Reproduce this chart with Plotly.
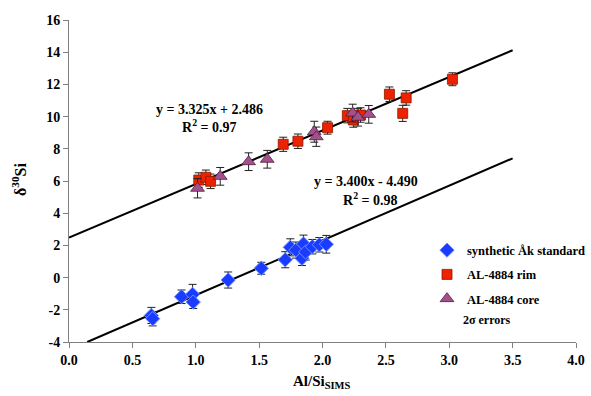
import plotly.graph_objects as go

# ---- data ----
std_x = [0.65, 0.66, 0.888, 0.975, 0.98, 1.256, 1.517, 1.706, 1.746, 1.79, 1.838, 1.85, 1.867, 1.92, 1.975, 2.03]
std_y = [-2.35, -2.55, -1.19, -1.04, -1.52, -0.15, 0.58, 1.11, 1.88, 1.71, 1.2, 2.09, 1.59, 1.92, 2.04, 2.07]
std_e = [0.5, 0.45, 0.42, 0.62, 0.4, 0.5, 0.37, 0.5, 0.53, 0.5, 0.45, 0.55, 0.5, 0.45, 0.45, 0.55]

rim_x = [1.024, 1.08, 1.117, 1.69, 1.806, 2.04, 2.196, 2.243, 2.30, 2.528, 2.66, 2.633, 3.025]
rim_y = [6.06, 6.23, 5.98, 8.28, 8.47, 9.31, 10.06, 9.79, 10.1, 11.39, 11.16, 10.2, 12.32]
rim_e = [0.45, 0.45, 0.45, 0.44, 0.45, 0.4, 0.45, 0.45, 0.45, 0.45, 0.45, 0.5, 0.4]

core_x = [1.014, 1.193, 1.417, 1.564, 1.935, 1.951, 2.238, 2.28, 2.365]
core_y = [5.55, 6.29, 7.2, 7.35, 9.06, 8.75, 10.22, 9.96, 10.14]
core_e = [0.6, 0.55, 0.55, 0.55, 0.65, 0.6, 0.55, 0.55, 0.55]

fit_upper = (3.325, 2.486)
fit_upper_x = [0.0, 3.5]
fit_lower = (3.400, -4.490)
fit_lower_x = [0.144, 3.5]

x_ticks = [0.0, 0.5, 1.0, 1.5, 2.0, 2.5, 3.0, 3.5, 4.0]
y_ticks = [-4, -2, 0, 2, 4, 6, 8, 10, 12, 14, 16]

FONT = "Liberation Serif, Times New Roman, serif"
L, R, T, B, W, H = 69, 15, 20, 54, 591, 396
PW, PH = W - L - R, H - T - B

fig = go.Figure()

def err(e):
    return dict(type="data", array=e, visible=True, color="#222222", thickness=1, width=4)

for (a, b), xs in ((fit_upper, fit_upper_x), (fit_lower, fit_lower_x)):
    fig.add_trace(go.Scatter(x=xs, y=[a * v + b for v in xs], mode="lines",
                             line=dict(color="black", width=2), showlegend=False, hoverinfo="skip"))

fig.add_trace(go.Scatter(x=std_x, y=std_y, error_y=err(std_e), mode="markers",
                         name="<b>synthetic Åk standard</b>", legendgroup="a",
                         marker=dict(symbol="diamond", size=11, color="#1a3cff",
                                     line=dict(color="#6f8dff", width=1))))
fig.add_trace(go.Scatter(x=rim_x, y=rim_y, error_y=err(rim_e), mode="markers",
                         name="<b>AL-4884 rim</b>", legendgroup="b",
                         marker=dict(symbol="square", size=10, color="#ee2200",
                                     line=dict(color="#8a1a00", width=0.8))))
fig.add_trace(go.Scatter(x=core_x, y=core_y, error_y=err(core_e), mode="markers",
                         name="<b>AL-4884 core</b>", legendgroup="c",
                         marker=dict(symbol="triangle-up", size=12, color="#a3508c",
                                     line=dict(color="#4a2040", width=0.8))))

axis_common = dict(showline=True, linecolor="#808080", linewidth=1, ticks="outside",
                   ticklen=5, tickcolor="#808080", showgrid=False, zeroline=False,
                   automargin=False,
                   tickfont=dict(family=FONT, size=14, color="black"))

fig.update_layout(
    width=W, height=H,
    margin=dict(l=L, r=R, t=T, b=B, autoexpand=False),
    plot_bgcolor="white", paper_bgcolor="white",
    xaxis=dict(range=[0, 4], tickvals=x_ticks,
               ticktext=[f"<b>{v:.1f}</b>" for v in x_ticks], **axis_common),
    yaxis=dict(range=[-4, 16], tickvals=y_ticks,
               ticktext=[f"<b>{v}</b>" for v in y_ticks], **axis_common),
    legend=dict(x=(427 - L) / PW, y=(H - B - 235.5) / PH, xanchor="left", yanchor="top",
                tracegroupgap=5,
                font=dict(family=FONT, size=12.5, color="black"),
                bgcolor="rgba(0,0,0,0)"),
    showlegend=True,
)

def ann(x, y, text, xref="x", yref="y", xanchor="center", size=14, angle=0):
    fig.add_annotation(x=x, y=y, xref=xref, yref=yref, text=text, showarrow=False,
                       xanchor=xanchor, yanchor="middle", textangle=angle,
                       font=dict(family=FONT, size=size, color="black"))

ann(1.11, 10.45, f"<b>y = {fit_upper[0]:.3f}x + {fit_upper[1]:.3f}</b>")
ann(1.11, 9.4, "<b>R<sup>2</sup> = 0.97</b>")
ann(2.34, 5.95, f"<b>y = {fit_lower[0]:.3f}x - {abs(fit_lower[1]):.3f}</b>")
ann(2.38, 4.9, "<b>R<sup>2</sup> = 0.98</b>")
ann((461 - L) / PW, (H - B - 320) / PH, "<b>2σ errors</b>", xref="paper", yref="paper",
    xanchor="left", size=12)
# axis titles
ann((322 - L) / PW, (H - B - 382) / PH, "<b>Al/Si<sub>SIMS</sub></b>", xref="paper", yref="paper", size=15)
ann((19 - L) / PW, (H - B - 180) / PH, "<b>δ<sup>30</sup>Si</b>", xref="paper", yref="paper",
    size=16, angle=-90)

fig.write_html("out.html", config={"displayModeBar": False},
               post_script="document.body.style.margin='0';document.body.style.padding='0';")
